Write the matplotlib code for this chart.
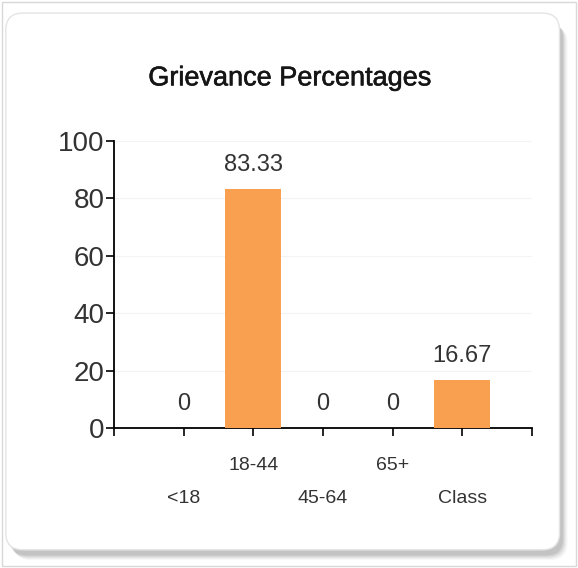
import matplotlib
matplotlib.use("Agg")
import matplotlib.pyplot as plt
import matplotlib.patheffects as pe
from matplotlib.patches import FancyBboxPatch, Rectangle

# chart data
categories = ["<18", "18-44", "45-64", "65+", "Class"]
percentages = [0, 83.33, 0, 0, 16.67]
value_labels = ["0", "83.33", "0", "0", "16.67"]
y_ticks = [0, 20, 40, 60, 80, 100]

bar_color = "#F9A050"
text_color = "#333333"
font = ["Liberation Sans", "DejaVu Sans"]

fig = plt.figure(figsize=(5.78, 5.68), dpi=100)
fig.patch.set_facecolor("white")

# outer frame of the screenshot
fig.patches.append(Rectangle((0.003, 0.004), 0.994, 0.992, transform=fig.transFigure,
                             facecolor="white", edgecolor="#d8d8d8", lw=1.0, zorder=-10))
# soft shadow under the card
for i, a in enumerate([0.03, 0.04, 0.05, 0.06, 0.07]):
    off = 0.012 - i * 0.002
    fig.patches.append(FancyBboxPatch((0.012 + off, 0.026 - off), 0.958, 0.94,
                                      boxstyle="round,pad=0,rounding_size=0.03",
                                      transform=fig.transFigure, facecolor="black",
                                      edgecolor="none", alpha=a, zorder=-9))
# the card
fig.patches.append(FancyBboxPatch((0.010, 0.032), 0.958, 0.945,
                                  boxstyle="round,pad=0,rounding_size=0.03",
                                  transform=fig.transFigure, facecolor="white",
                                  edgecolor="#e4e4e4", lw=1.0, zorder=-8))

ax = fig.add_axes([0.1972, 0.2465, 0.7232, 0.5053])
ax.set_facecolor("none")

x = list(range(len(categories)))
ax.bar(x, percentages, width=0.8, color=bar_color, zorder=3)

for xi, v, lab in zip(x, percentages, value_labels):
    ax.text(xi, v + 4.5, lab, ha="center", va="bottom", fontsize=17,
            family=font, color=text_color)

ax.set_xlim(-1, len(categories))
ax.set_ylim(0, 100)
ax.set_yticks(y_ticks)
ax.set_yticklabels([str(t) for t in y_ticks], fontsize=20, family=font, color=text_color)
ax.set_xticks(list(range(-1, len(categories) + 1)))
ax.set_xticklabels([])
ax.tick_params(axis="y", length=6, width=1.2, pad=1)
ax.tick_params(axis="x", length=6, width=1.2, direction="out")
ax.yaxis.grid(True, color="#f3f3f3", lw=0.8, zorder=0)

for side in ["top", "right"]:
    ax.spines[side].set_visible(False)
ax.spines["left"].set_linewidth(1.3)
ax.spines["bottom"].set_linewidth(1.3)

# staggered category labels
for xi, lab in zip(x, categories):
    y_off = -0.13 if xi % 2 == 1 else -0.245
    ax.text(xi, y_off, lab, transform=ax.get_xaxis_transform(), ha="center", va="center",
            fontsize=14, family=font, color=text_color)

fig.text(0.502, 0.862, "Grievance Percentages", ha="center", va="center",
         fontsize=19.5, family=font, color="#151515",
         path_effects=[pe.withStroke(linewidth=0.4, foreground="#151515")])

fig.savefig("out.png", dpi=100)
